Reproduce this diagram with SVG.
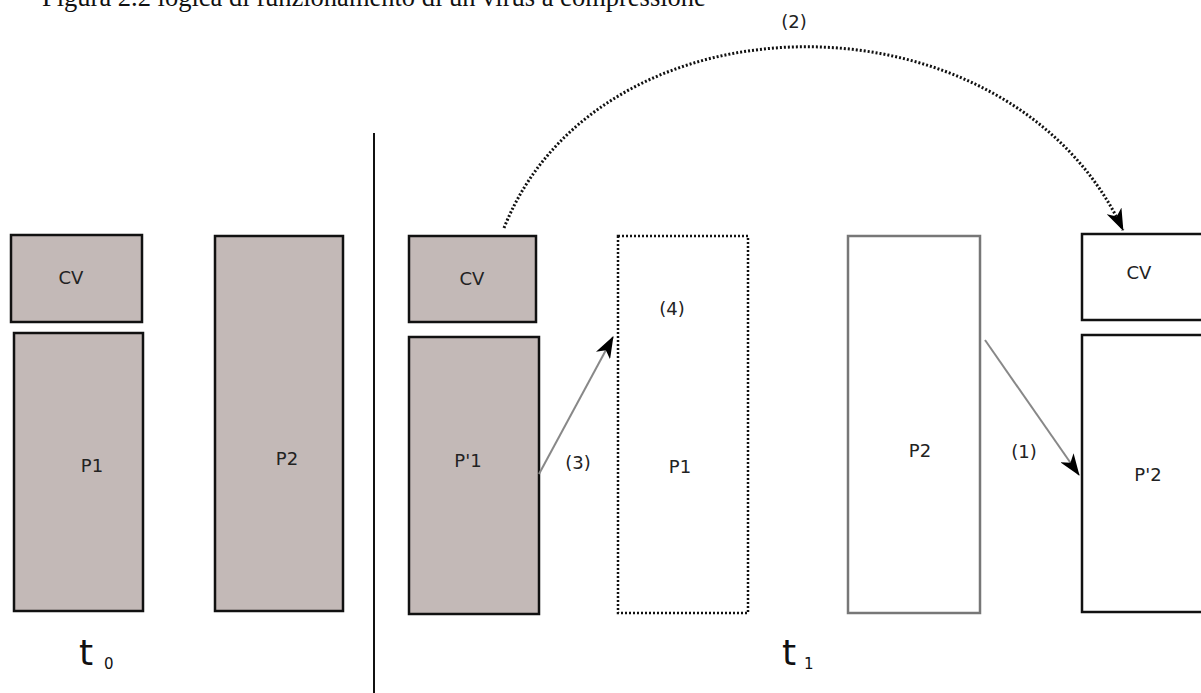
<svg xmlns="http://www.w3.org/2000/svg" width="1201" height="693" viewBox="0 0 1201 693">
<style>
.lbl{font-family:"DejaVu Sans",Verdana,sans-serif;font-size:18px;fill:#222}
.sh{fill:#c3b9b7;stroke:#111;stroke-width:2.5}
.wh{fill:#fff;stroke:#111;stroke-width:2.5}
.dot{fill:none;stroke:#111;stroke-width:2.5;stroke-dasharray:2 2}
.gr{fill:#fff;stroke:#777;stroke-width:2.5}
.ga{fill:none;stroke:#888;stroke-width:2}
.big{font-family:"DejaVu Sans",Verdana,sans-serif;font-size:36px;fill:#111}
.sub{font-family:"DejaVu Sans",Verdana,sans-serif;font-size:15px;fill:#111}
</style>
<defs>
<marker id="ah" viewBox="0 0 22 16" refX="21" refY="8" markerWidth="22" markerHeight="16" markerUnits="userSpaceOnUse" orient="auto">
<path d="M0,0 L22,8 L0,16 L6,8 Z" fill="#000"/>
</marker>
</defs>
<rect width="1201" height="693" fill="#fff"/>
<text x="42" y="6" font-family="Liberation Serif, serif" font-size="26.5" fill="#111">Figura 2.2 logica di funzionamento di un virus a compressione</text>
<g id="divider"><line x1="374" y1="133" x2="374" y2="693" stroke="#111" stroke-width="2"/></g>
<g id="t0-cv"><rect class="sh" x="11" y="235" width="131" height="87"/><text class="lbl" x="71" y="284" text-anchor="middle">CV</text></g>
<g id="t0-p1"><rect class="sh" x="14" y="333" width="129" height="278"/><text class="lbl" x="92" y="472" text-anchor="middle">P1</text></g>
<g id="t0-p2"><rect class="sh" x="215" y="236" width="128" height="375"/><text class="lbl" x="287" y="465" text-anchor="middle">P2</text></g>
<g id="t0-label"><text class="big" x="79" y="665">t</text><text class="sub" x="104" y="669">0</text></g>
<g id="t1-cv"><rect class="sh" x="409" y="236" width="127" height="86"/><text class="lbl" x="472" y="285" text-anchor="middle">CV</text></g>
<g id="t1-pp1"><rect class="sh" x="409" y="337" width="130" height="277"/><text class="lbl" x="468" y="467" text-anchor="middle">P'1</text></g>
<g id="t1-p1"><rect class="dot" x="618" y="236" width="130" height="377"/><text class="lbl" x="672" y="315" text-anchor="middle">(4)</text><text class="lbl" x="680" y="473" text-anchor="middle">P1</text></g>
<g id="t1-p2"><rect class="gr" x="848" y="236" width="132" height="377"/><text class="lbl" x="920" y="457" text-anchor="middle">P2</text></g>
<g id="t1-cv2"><rect class="wh" x="1082" y="234" width="125" height="86"/><text class="lbl" x="1139" y="279" text-anchor="middle">CV</text></g>
<g id="t1-pp2"><rect class="wh" x="1082" y="335" width="125" height="277"/><text class="lbl" x="1148" y="481" text-anchor="middle">P'2</text></g>
<g id="t1-label"><text class="big" x="782" y="665">t</text><text class="sub" x="804" y="669">1</text></g>
<g id="connectors">
<path d="M504,228 C600,-14 1010,-14 1123,230" fill="none" stroke="#111" stroke-width="3" stroke-dasharray="2 2" marker-end="url(#ah)"/>
<line class="ga" x1="539" y1="474" x2="613" y2="337" marker-end="url(#ah)"/>
<line class="ga" x1="985" y1="340" x2="1079" y2="475" marker-end="url(#ah)"/>
<text class="lbl" x="794" y="28" text-anchor="middle">(2)</text>
<text class="lbl" x="578" y="469" text-anchor="middle">(3)</text>
<text class="lbl" x="1024" y="458" text-anchor="middle">(1)</text>
</g>
</svg>
